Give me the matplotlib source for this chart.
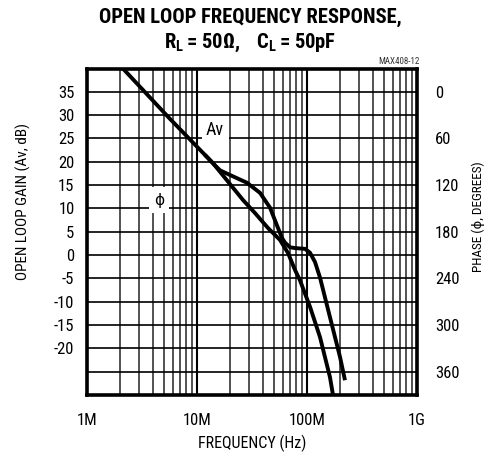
import matplotlib
matplotlib.use("Agg")
import matplotlib.pyplot as plt
from matplotlib import font_manager
from matplotlib.ticker import LogLocator, NullFormatter, FixedLocator

# ---------------- data ----------------
# Open loop gain (Av) : frequency in MHz, gain in dB
gain_freq_mhz = [2.12, 5.68, 13.97, 26.2, 33.7, 44.2, 56.8, 67.2, 77.8, 86.3, 106.5, 131.3, 161.8, 172.3]
gain_db = [40.0, 29.2, 19.7, 11.8, 9.0, 5.8, 3.25, 0.44, -3.2, -5.4, -11.1, -17.6, -26.2, -30.0]

# Phase (phi) : frequency in MHz, phase in degrees
phase_freq_mhz = [11.8, 13.97, 16.2, 19.95, 28.5, 37.4, 46.1, 53.4, 59.3, 63.1, 70.0, 77.8, 95.9,
                  106.5, 118.3, 131.3, 161.8, 199.5, 221.4]
phase_deg = [81, 92, 101, 107, 117, 130, 149, 172, 188, 194, 200, 201, 202,
             207, 219, 239, 290, 341, 371]

x_ticks = [1e6, 1e7, 1e8, 1e9]
x_tick_labels = ["1M", "10M", "100M", "1G"]
gain_ticks = [35, 30, 25, 20, 15, 10, 5, 0, -5, -10, -15, -20]
phase_ticks = [0, 60, 120, 180, 240, 300, 360]

# ---------------- fonts ----------------
names = sorted({f.name for f in font_manager.fontManager.ttflist})
font = "Liberation Sans"
for cand in ["Liberation Sans Narrow", "Roboto Condensed", "Open Sans Condensed", "Arial Narrow"]:
    if cand in names:
        font = cand
        break
plt.rcParams["font.family"] = [font, "DejaVu Sans"]
plt.rcParams["axes.unicode_minus"] = False
plt.rcParams["mathtext.fontset"] = "custom"
plt.rcParams["mathtext.rm"] = font
plt.rcParams["mathtext.bf"] = font + ":bold"

fig = plt.figure(figsize=(5.0, 4.57), dpi=100)
ax = fig.add_axes([0.174, 0.1357, 0.66, 0.7144])

ax.set_xscale("log")
ax.set_xlim(1e6, 1e9)
ax.set_ylim(-30, 40)

# grid
ax.xaxis.set_major_locator(FixedLocator(x_ticks))
ax.xaxis.set_minor_locator(LogLocator(base=10, subs=range(2, 10), numticks=20))
ax.xaxis.set_minor_formatter(NullFormatter())
ax.set_xticklabels(x_tick_labels)
ax.set_yticks(gain_ticks)
ax.yaxis.set_minor_locator(FixedLocator([-25, -30, 40]))
ax.grid(True, which="major", axis="x", color="black", lw=1.5)
ax.grid(True, which="minor", axis="x", color="#444444", lw=1.3)
ax.grid(True, which="both", axis="y", color="black", lw=1.2)
ax.tick_params(which="both", length=0)
ax.tick_params(axis="x", pad=13, labelsize=12)
ax.tick_params(axis="y", pad=9, labelsize=12)
for s in ax.spines.values():
    s.set_linewidth(2.6)
    s.set_color("black")

# curves
gx = [f * 1e6 for f in gain_freq_mhz]
ax.plot(gx, gain_db, color="black", lw=2.8, solid_capstyle="butt", zorder=5)

ax2 = ax.twinx()
# phase = (35 - gain) * 6 ; gain 40 -> -30 deg, gain -30 -> 390 deg
ax2.set_ylim(390, -30)
ax2.set_yticks(phase_ticks)
ax2.tick_params(which="both", length=0, pad=13, labelsize=12)
for s in ax2.spines.values():
    s.set_visible(False)
px = [f * 1e6 for f in phase_freq_mhz]
ax2.plot(px, phase_deg, color="black", lw=2.8, solid_capstyle="butt", zorder=5)

# curve labels
ax.text(14.6e6, 26.8, "Av", ha="center", va="center", fontsize=13, zorder=6,
        bbox=dict(boxstyle="square,pad=0.25", fc="white", ec="none"))
ax.text(4.52e6, 11.8, "ϕ", ha="center", va="center", fontsize=11, zorder=6,
        family=["DejaVu Sans"],
        bbox=dict(boxstyle="square,pad=0.35", fc="white", ec="none"))

# axis labels
ax.set_xlabel("FREQUENCY (Hz)", fontsize=11.5, labelpad=5)
fig.text(23 / 500, 1 - 201 / 457, "OPEN LOOP GAIN (Av, dB)", rotation=90, ha="center", va="center",
         fontsize=11)
fig.text(478 / 500, 1 - 217 / 457, "PHASE (ϕ, DEGREES)", rotation=90, ha="center", va="center",
         fontsize=9.5, family=[font, "DejaVu Sans"])

# titles
fig.text(0.5, 1 - 17 / 457, "OPEN LOOP FREQUENCY RESPONSE,", ha="center", va="center",
         fontsize=14.8, fontweight="bold")
fig.text(0.5, 1 - 43 / 457, r"$\mathbf{R_L = 50Ω,\ \ C_L = 50pF}$", ha="center", va="center",
         fontsize=14.8)
fig.text(420 / 500, 1 - 61 / 457, "MAX408-12", ha="right", va="center", fontsize=6.5, color="#333333")

fig.savefig("out.png", dpi=100)
